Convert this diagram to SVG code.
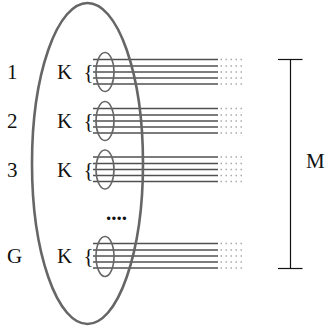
<svg xmlns="http://www.w3.org/2000/svg" width="331" height="333" viewBox="0 0 331 333">
  <defs>
    <style>
      text { font-family: 'Liberation Serif', 'Times New Roman', serif; font-size: 21px; fill: #111; }
      .wire { stroke: #505050; stroke-width: 1.5; fill: none; }
      .dots { stroke: #aaa; stroke-width: 1.4; stroke-dasharray: 1.5 3.5; fill: none; }
      .ring { stroke: #666; stroke-width: 1.6; fill: none; }
      .big { stroke: #666; stroke-width: 2.6; fill: none; }
      .bar { stroke: #111; stroke-width: 1.2; fill: none; }
    </style>
    <g id="wires">
      <line class="wire" x1="93" y1="-12.5" x2="218" y2="-12.5"/>
      <line class="wire" x1="93" y1="-6" x2="218" y2="-6"/>
      <line class="wire" x1="93" y1="0" x2="218" y2="0"/>
      <line class="wire" x1="93" y1="6" x2="218" y2="6"/>
      <line class="wire" x1="93" y1="12" x2="218" y2="12"/>
      <line class="dots" x1="220.5" y1="-12.5" x2="243" y2="-12.5"/>
      <line class="dots" x1="220.5" y1="-6" x2="243" y2="-6"/>
      <line class="dots" x1="220.5" y1="0" x2="243" y2="0"/>
      <line class="dots" x1="220.5" y1="6" x2="243" y2="6"/>
      <line class="dots" x1="220.5" y1="12" x2="243" y2="12"/>
    </g>
  </defs>

  <g id="connectors">
    <use href="#wires" transform="translate(0,72)"/>
    <use href="#wires" transform="translate(0,121)"/>
    <use href="#wires" transform="translate(0,169.5)"/>
    <use href="#wires" transform="translate(0,256)"/>
  </g>

  <g id="row1">
    <text x="7" y="78.5">1</text>
    <text x="57" y="78.5">K</text>
    <text x="83.5" y="78.5">{</text>
    <ellipse class="ring" cx="105" cy="72" rx="9" ry="19.5"/>
  </g>
  <g id="row2">
    <text x="7" y="127.5">2</text>
    <text x="57" y="127.5">K</text>
    <text x="83.5" y="127.5">{</text>
    <ellipse class="ring" cx="105" cy="121" rx="9" ry="19.5"/>
  </g>
  <g id="row3">
    <text x="7" y="176.5">3</text>
    <text x="57" y="176.5">K</text>
    <text x="83.5" y="176.5">{</text>
    <ellipse class="ring" cx="105" cy="169.5" rx="9" ry="19.5"/>
  </g>
  <g id="ellipsis">
    <text x="106" y="220" font-weight="bold">....</text>
  </g>
  <g id="rowG">
    <text x="7" y="263">G</text>
    <text x="57" y="263">K</text>
    <text x="83.5" y="263">{</text>
    <ellipse class="ring" cx="105" cy="256.5" rx="9" ry="20"/>
  </g>

  <g id="group-ellipse">
    <ellipse class="big" cx="87.5" cy="163.5" rx="55.5" ry="160.5"/>
  </g>

  <g id="measure-M">
    <line class="bar" x1="278" y1="59.5" x2="302.5" y2="59.5"/>
    <line class="bar" x1="290.5" y1="59.5" x2="290.5" y2="268.5"/>
    <line class="bar" x1="278" y1="268.5" x2="302.5" y2="268.5"/>
    <text x="306" y="167.5">M</text>
  </g>
</svg>
